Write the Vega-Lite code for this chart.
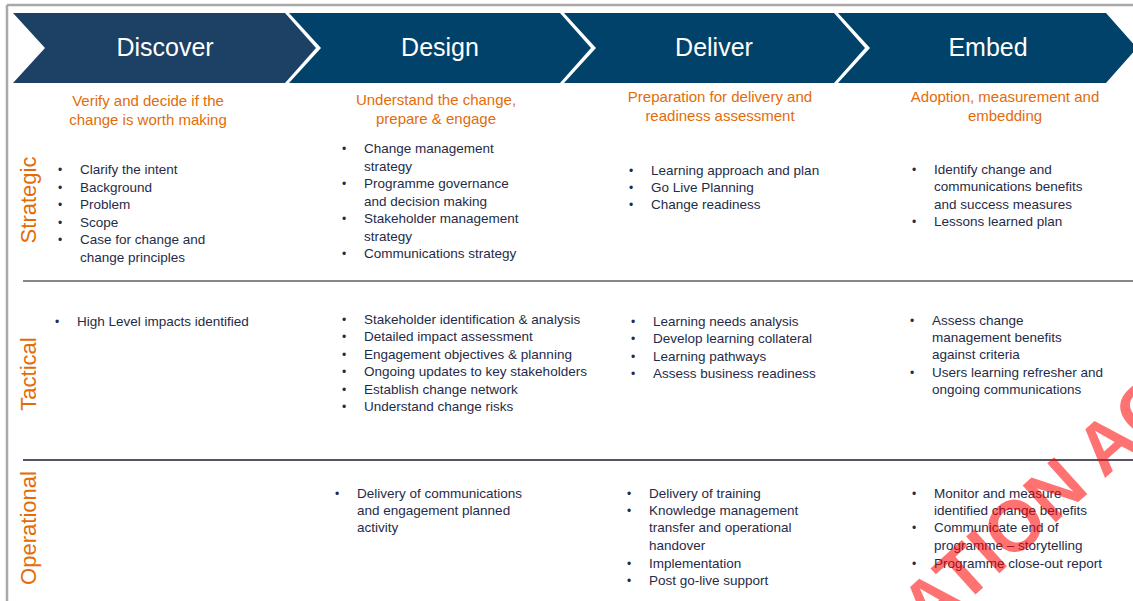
{
  "$schema": "https://vega.github.io/schema/vega-lite/v6.json",
  "autosize": "none",
  "padding": 0,
  "width": 1133,
  "height": 601,
  "background": "white",
  "config": {"view": {"stroke": null}},
  "datasets": {
    "chevrons": [
      {"p": "Discover", "y": 13, "xl": 13, "xr": 285},
      {"p": "Discover", "y": 48, "xl": 45, "xr": 316},
      {"p": "Discover", "y": 83, "xl": 13, "xr": 285},
      {"p": "Design", "y": 13, "xl": 289, "xr": 560},
      {"p": "Design", "y": 48, "xl": 321, "xr": 591},
      {"p": "Design", "y": 83, "xl": 289, "xr": 560},
      {"p": "Deliver", "y": 13, "xl": 564, "xr": 834},
      {"p": "Deliver", "y": 48, "xl": 596, "xr": 865},
      {"p": "Deliver", "y": 83, "xl": 564, "xr": 834},
      {"p": "Embed", "y": 13, "xl": 838, "xr": 1106},
      {"p": "Embed", "y": 48, "xl": 870, "xr": 1137},
      {"p": "Embed", "y": 83, "xl": 838, "xr": 1106}
    ],
    "border": [
      {"x": 7, "x2": 7, "y": 5, "y2": 601},
      {"x": 7, "x2": 1133, "y": 5, "y2": 5}
    ],
    "separators": [
      {"k": "upper", "x": 23, "x2": 1133, "y": 281, "y2": 281},
      {"k": "lower", "x": 23, "x2": 1133, "y": 460, "y2": 460}
    ],
    "phases": [
      {"t": "Discover", "x": 165, "y": 48},
      {"t": "Design", "x": 440, "y": 48},
      {"t": "Deliver", "x": 714, "y": 48},
      {"t": "Embed", "x": 988, "y": 48}
    ],
    "subtitles": [
      {"t": "Verify and decide if the", "x": 148, "y": 101},
      {"t": "change is worth making", "x": 148, "y": 120},
      {"t": "Understand the change,", "x": 436, "y": 100},
      {"t": "prepare & engage", "x": 436, "y": 119},
      {"t": "Preparation for delivery and", "x": 720, "y": 97},
      {"t": "readiness assessment", "x": 720, "y": 116},
      {"t": "Adoption, measurement and", "x": 1005, "y": 97},
      {"t": "embedding", "x": 1005, "y": 116}
    ],
    "levels": [
      {"t": "Strategic", "x": 29, "y": 200},
      {"t": "Tactical", "x": 29, "y": 374},
      {"t": "Operational", "x": 29, "y": 528}
    ],
    "items": [
      {"ph": "Discover", "lv": "Strategic", "t": "Clarify the intent", "x": 80, "y": 170, "b": 1},
      {"ph": "Discover", "lv": "Strategic", "t": "Background", "x": 80, "y": 187.5, "b": 1},
      {"ph": "Discover", "lv": "Strategic", "t": "Problem", "x": 80, "y": 205, "b": 1},
      {"ph": "Discover", "lv": "Strategic", "t": "Scope", "x": 80, "y": 222.5, "b": 1},
      {"ph": "Discover", "lv": "Strategic", "t": "Case for change and", "x": 80, "y": 240, "b": 1},
      {"ph": "Discover", "lv": "Strategic", "t": "change principles", "x": 80, "y": 257.5, "b": 0},
      {"ph": "Discover", "lv": "Tactical", "t": "High Level impacts identified", "x": 77, "y": 322, "b": 1},
      {"ph": "Design", "lv": "Strategic", "t": "Change management", "x": 364, "y": 149, "b": 1},
      {"ph": "Design", "lv": "Strategic", "t": "strategy", "x": 364, "y": 166.5, "b": 0},
      {"ph": "Design", "lv": "Strategic", "t": "Programme governance", "x": 364, "y": 184, "b": 1},
      {"ph": "Design", "lv": "Strategic", "t": "and decision making", "x": 364, "y": 201.5, "b": 0},
      {"ph": "Design", "lv": "Strategic", "t": "Stakeholder management", "x": 364, "y": 219, "b": 1},
      {"ph": "Design", "lv": "Strategic", "t": "strategy", "x": 364, "y": 236.5, "b": 0},
      {"ph": "Design", "lv": "Strategic", "t": "Communications strategy", "x": 364, "y": 254, "b": 1},
      {"ph": "Design", "lv": "Tactical", "t": "Stakeholder identification & analysis", "x": 364, "y": 319.5, "b": 1},
      {"ph": "Design", "lv": "Tactical", "t": "Detailed impact assessment", "x": 364, "y": 337, "b": 1},
      {"ph": "Design", "lv": "Tactical", "t": "Engagement objectives & planning", "x": 364, "y": 354.5, "b": 1},
      {"ph": "Design", "lv": "Tactical", "t": "Ongoing updates to key stakeholders", "x": 364, "y": 372, "b": 1},
      {"ph": "Design", "lv": "Tactical", "t": "Establish change network", "x": 364, "y": 389.5, "b": 1},
      {"ph": "Design", "lv": "Tactical", "t": "Understand change risks", "x": 364, "y": 407, "b": 1},
      {"ph": "Design", "lv": "Operational", "t": "Delivery of communications", "x": 357, "y": 494, "b": 1},
      {"ph": "Design", "lv": "Operational", "t": "and engagement planned", "x": 357, "y": 511, "b": 0},
      {"ph": "Design", "lv": "Operational", "t": "activity", "x": 357, "y": 528, "b": 0},
      {"ph": "Deliver", "lv": "Strategic", "t": "Learning approach and plan", "x": 651, "y": 170.5, "b": 1},
      {"ph": "Deliver", "lv": "Strategic", "t": "Go Live Planning", "x": 651, "y": 188, "b": 1},
      {"ph": "Deliver", "lv": "Strategic", "t": "Change readiness", "x": 651, "y": 205, "b": 1},
      {"ph": "Deliver", "lv": "Tactical", "t": "Learning needs analysis", "x": 653, "y": 321.5, "b": 1},
      {"ph": "Deliver", "lv": "Tactical", "t": "Develop learning collateral", "x": 653, "y": 339, "b": 1},
      {"ph": "Deliver", "lv": "Tactical", "t": "Learning pathways", "x": 653, "y": 356.5, "b": 1},
      {"ph": "Deliver", "lv": "Tactical", "t": "Assess business readiness", "x": 653, "y": 374, "b": 1},
      {"ph": "Deliver", "lv": "Operational", "t": "Delivery of training", "x": 649, "y": 494, "b": 1},
      {"ph": "Deliver", "lv": "Operational", "t": "Knowledge management", "x": 649, "y": 511, "b": 1},
      {"ph": "Deliver", "lv": "Operational", "t": "transfer and operational", "x": 649, "y": 528, "b": 0},
      {"ph": "Deliver", "lv": "Operational", "t": "handover", "x": 649, "y": 546, "b": 0},
      {"ph": "Deliver", "lv": "Operational", "t": "Implementation", "x": 649, "y": 564, "b": 1},
      {"ph": "Deliver", "lv": "Operational", "t": "Post go-live support", "x": 649, "y": 581, "b": 1},
      {"ph": "Embed", "lv": "Strategic", "t": "Identify change and", "x": 934, "y": 170, "b": 1},
      {"ph": "Embed", "lv": "Strategic", "t": "communications benefits", "x": 934, "y": 187, "b": 0},
      {"ph": "Embed", "lv": "Strategic", "t": "and success measures", "x": 934, "y": 204.5, "b": 0},
      {"ph": "Embed", "lv": "Strategic", "t": "Lessons learned plan", "x": 934, "y": 222, "b": 1},
      {"ph": "Embed", "lv": "Tactical", "t": "Assess change", "x": 932, "y": 321, "b": 1},
      {"ph": "Embed", "lv": "Tactical", "t": "management benefits", "x": 932, "y": 338, "b": 0},
      {"ph": "Embed", "lv": "Tactical", "t": "against criteria", "x": 932, "y": 355, "b": 0},
      {"ph": "Embed", "lv": "Tactical", "t": "Users learning refresher and", "x": 932, "y": 373, "b": 1},
      {"ph": "Embed", "lv": "Tactical", "t": "ongoing communications", "x": 932, "y": 390, "b": 0},
      {"ph": "Embed", "lv": "Operational", "t": "Monitor and measure", "x": 934, "y": 494, "b": 1},
      {"ph": "Embed", "lv": "Operational", "t": "identified change benefits", "x": 934, "y": 511, "b": 0},
      {"ph": "Embed", "lv": "Operational", "t": "Communicate end of", "x": 934, "y": 528, "b": 1},
      {"ph": "Embed", "lv": "Operational", "t": "programme – storytelling", "x": 934, "y": 546, "b": 0},
      {"ph": "Embed", "lv": "Operational", "t": "Programme close-out report", "x": 934, "y": 563.5, "b": 1}
    ],
    "watermark": [
      {"t": "ATION AC", "x": 1040, "y": 507}
    ]
  },
  "layer": [
    {
      "data": {"name": "chevrons"},
      "mark": {"type": "area", "orient": "horizontal", "opacity": 1, "interpolate": "linear"},
      "encoding": {
        "y": {"field": "y", "type": "quantitative", "scale": {"domain": [0, 601], "reverse": true, "nice": false, "zero": false}, "axis": null},
        "x": {"field": "xl", "type": "quantitative", "scale": {"domain": [0, 1133], "nice": false, "zero": false}, "axis": null, "stack": null},
        "x2": {"field": "xr"},
        "color": {"field": "p", "type": "nominal", "scale": {"domain": ["Discover", "Design", "Deliver", "Embed"], "range": ["#1d4065", "#01426a", "#01426a", "#01426a"]}, "legend": null}
      }
    },
    {
      "data": {"name": "border"},
      "mark": {"type": "rule", "color": "#a9a9a9", "strokeWidth": 2.5},
      "encoding": {
        "x": {"field": "x", "type": "quantitative", "axis": null},
        "x2": {"field": "x2"},
        "y": {"field": "y", "type": "quantitative", "axis": null},
        "y2": {"field": "y2"}
      }
    },
    {
      "data": {"name": "separators"},
      "mark": {"type": "rule", "strokeWidth": 1.5},
      "encoding": {
        "x": {"field": "x", "type": "quantitative", "axis": null},
        "x2": {"field": "x2"},
        "y": {"field": "y", "type": "quantitative", "axis": null},
        "y2": {"field": "y2"},
        "stroke": {"field": "k", "type": "nominal", "scale": {"domain": ["upper", "lower"], "range": ["#5c5f66", "#1b1d33"]}, "legend": null}
      }
    },
    {
      "data": {"name": "phases"},
      "mark": {"type": "text", "align": "center", "baseline": "middle", "font": "Liberation Sans", "fontSize": 25, "color": "#ffffff"},
      "encoding": {
        "x": {"field": "x", "type": "quantitative", "axis": null},
        "y": {"field": "y", "type": "quantitative", "axis": null},
        "text": {"field": "t"}
      }
    },
    {
      "data": {"name": "subtitles"},
      "mark": {"type": "text", "align": "center", "baseline": "middle", "font": "Liberation Sans", "fontSize": 15, "color": "#e36c09"},
      "encoding": {
        "x": {"field": "x", "type": "quantitative", "axis": null},
        "y": {"field": "y", "type": "quantitative", "axis": null},
        "text": {"field": "t"}
      }
    },
    {
      "data": {"name": "levels"},
      "mark": {"type": "text", "align": "center", "baseline": "middle", "font": "Liberation Sans", "fontSize": 22, "angle": 270, "color": "#e36c09"},
      "encoding": {
        "x": {"field": "x", "type": "quantitative", "axis": null},
        "y": {"field": "y", "type": "quantitative", "axis": null},
        "text": {"field": "t"}
      }
    },
    {
      "data": {"name": "items"},
      "mark": {"type": "text", "align": "left", "baseline": "middle", "font": "Liberation Sans", "fontSize": 13.5, "color": "#1f2b48"},
      "encoding": {
        "x": {"field": "x", "type": "quantitative", "axis": null},
        "y": {"field": "y", "type": "quantitative", "axis": null},
        "text": {"field": "t"}
      }
    },
    {
      "data": {"name": "items"},
      "transform": [{"filter": "datum.b == 1"}],
      "mark": {"type": "text", "align": "center", "baseline": "middle", "font": "Liberation Sans", "fontSize": 12, "color": "#1f2b48", "text": "•", "dx": -20},
      "encoding": {
        "x": {"field": "x", "type": "quantitative", "axis": null},
        "y": {"field": "y", "type": "quantitative", "axis": null}
      }
    },
    {
      "data": {"name": "watermark"},
      "mark": {"type": "text", "align": "center", "baseline": "middle", "font": "Liberation Sans", "fontWeight": "bold", "fontSize": 72, "angle": 318, "color": "#ff0000", "opacity": 0.55},
      "encoding": {
        "x": {"field": "x", "type": "quantitative", "axis": null},
        "y": {"field": "y", "type": "quantitative", "axis": null},
        "text": {"field": "t"}
      }
    }
  ]
}
